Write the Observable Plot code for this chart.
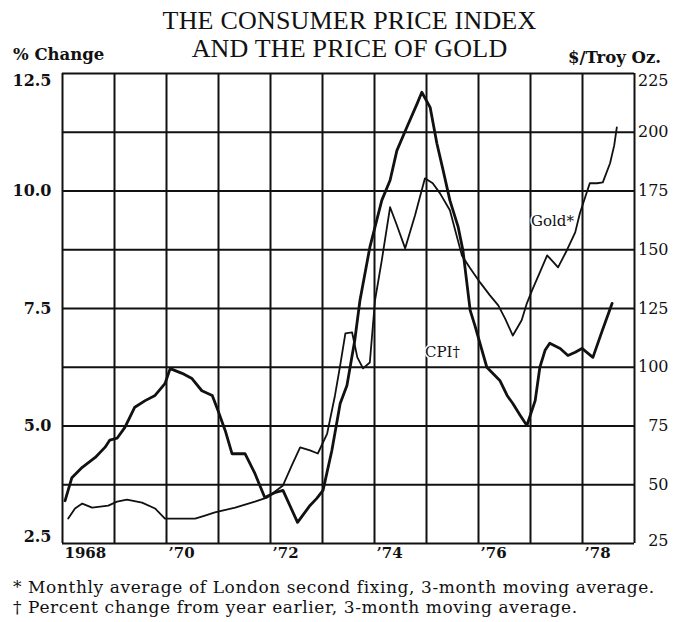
<!DOCTYPE html>
<html>
<head>
<meta charset="utf-8">
<script src="https://cdn.jsdelivr.net/npm/d3@7"></script>
<script src="https://cdn.jsdelivr.net/npm/@observablehq/plot@0.6"></script>
<style>
  body { margin: 0; background: #fff; }
  #wrap { position: relative; width: 677px; height: 622px; color: #111; overflow: hidden; }
  .title { position: absolute; left: 11px; width: 677px; text-align: center;
           font-family: "Liberation Serif", serif; font-size: 26px; line-height: 28px; letter-spacing: 0.2px; }
  .axt { position: absolute; font-family: "DejaVu Serif", serif; font-weight: bold; font-size: 16.5px; line-height: 18px; }
  .note { position: absolute; left: 13px; font-family: "DejaVu Serif", serif; font-size: 17px; line-height: 19px;
          letter-spacing: 0.6px; white-space: nowrap; }
  #chart { position: absolute; left: 0; top: 0; }
</style>
</head>
<body>
<div id="wrap">
  <div id="chart"></div>
  <div class="title" style="top:7px">THE CONSUMER PRICE INDEX</div>
  <div class="title" style="top:35px">AND THE PRICE OF GOLD</div>
  <div class="axt" style="left:13px; top:46px">% Change</div>
  <div class="axt" style="left:568px; top:49px">$/Troy Oz.</div>
  <div class="note" style="top:578px">* Monthly average of London second fixing, 3-month moving average.</div>
  <div class="note" style="top:598px">† Percent change from year earlier, 3-month moving average.</div>
</div>
<script>
// ---- Data ----
// Consumer Price Index, % change from year earlier (3-month moving average)
const cpiYear = [1968.05,1968.18,1968.38,1968.63,1968.82,1968.91,1969.05,1969.20,1969.39,1969.59,1969.78,1969.97,
  1970.07,1970.30,1970.49,1970.68,1970.88,1970.99,1971.13,1971.26,1971.51,1971.70,1971.89,
  1972.08,1972.24,1972.52,1972.76,1972.89,1973.01,1973.18,1973.34,1973.47,1973.62,1973.72,1973.91,
  1974.14,1974.30,1974.43,1974.62,1974.82,1974.91,1975.07,1975.20,1975.32,1975.45,1975.61,1975.70,1975.84,1975.93,
  1976.16,1976.41,1976.55,1976.66,1976.80,1976.93,1977.09,1977.18,1977.28,1977.37,1977.57,1977.72,1977.86,1977.99,
  1978.20,1978.38,1978.57];
const cpiValue = [3.41,3.90,4.12,4.33,4.55,4.70,4.74,4.97,5.40,5.54,5.65,5.90,
  6.22,6.12,6.01,5.75,5.65,5.33,4.90,4.41,4.41,3.99,3.48,
  3.58,3.63,2.95,3.31,3.46,3.63,4.48,5.48,5.86,6.82,7.67,8.80,
  9.80,10.23,10.86,11.35,11.86,12.10,11.78,11.01,10.44,9.80,9.23,8.74,7.46,7.14,
  6.25,5.97,5.65,5.48,5.23,5.01,5.54,6.25,6.61,6.76,6.65,6.50,6.57,6.65,
  6.46,7.03,7.61];

// Gold, $/troy oz. (London second fixing, 3-month moving average)
const goldYear = [1968.11,1968.24,1968.38,1968.57,1968.88,1969.05,1969.24,1969.53,1969.78,1969.97,
  1970.26,1970.55,1970.74,1970.93,1971.32,1971.70,1971.93,
  1972.24,1972.41,1972.57,1972.76,1972.91,1973.09,1973.24,1973.34,1973.44,1973.57,1973.67,1973.78,1973.91,
  1974.01,1974.14,1974.30,1974.43,1974.59,1974.78,1974.97,1975.12,1975.26,1975.45,1975.68,1975.84,
  1976.03,1976.22,1976.38,1976.51,1976.66,1976.83,1976.93,1977.03,1977.18,1977.32,1977.44,1977.53,1977.70,1977.86,1977.95,
  1978.14,1978.28,1978.39,1978.53,1978.61,1978.66];
const goldValue = [35.6,39.9,42.0,40.3,41.1,42.8,43.7,42.4,39.9,35.6,
  35.6,35.6,36.9,38.2,40.3,42.8,44.5,
  49.7,58.2,65.9,64.6,63.3,71.8,88.0,100.8,114.4,114.8,104.2,99.5,102.0,
  128.5,145.5,168.1,160.4,150.6,164.7,180.4,178.3,174.0,166.8,147.6,142.1,
  136.1,130.6,126.3,120.8,113.5,120.0,127.2,132.7,140.4,147.6,144.7,142.5,149.8,157.4,165.5,
  178.3,178.3,178.7,186.8,194.4,202.1];

// Axis ticks and labels
const yearTicks = [1968,1969,1970,1971,1972,1973,1974,1975,1976,1977,1978,1979];
const xLabelYears = [1968,1970,1972,1974,1976,1978];
const xLabelText = ["1968","’70","’72","’74","’76","’78"];
const cpiTicks = [2.5,5.0,7.5,10.0,12.5];
const goldTicks = [25,50,75,100,125,150,175,200,225];
const gridLevels = [2.5,3.75,5,6.25,7.5,8.75,10,11.25,12.5];

// Series labels (year, value)
const seriesLabels = [
  {name: "CPI†", year: 1974.97, cpi: 6.57},
  {name: "Gold*", year: 1977.01, gold: 162}
];

// ---- Build ----
const goldToCpi = g => 2.5 + (g - 25) / 20;
const cpiToGold = c => (c - 2.5) * 20 + 25;
const cpi = cpiYear.map((y, i) => ({year: y, value: cpiValue[i]}));
const gold = goldYear.map((y, i) => ({year: y, value: goldValue[i]}));
const labels = seriesLabels.map(d => ({name: d.name, year: d.year, y: d.cpi ?? goldToCpi(d.gold)}));

const font = "DejaVu Serif";
const ink = "#111";
const leftOpts = {anchor: "left", tickSize: 0, tickPadding: 11, tickFormat: d => d.toFixed(1),
  fontFamily: font, fontWeight: "bold", fontSize: 16, label: null};
const rightOpts = {anchor: "right", tickSize: 0, tickPadding: 34, textAnchor: "end",
  tickFormat: d => String(Math.round(cpiToGold(d))), fontFamily: font, fontSize: 16, label: null};

const plot = Plot.plot({
  width: 677,
  height: 575,
  marginTop: 73,
  marginBottom: 32,
  marginLeft: 62,
  marginRight: 43,
  style: {background: "transparent", color: ink},
  x: {domain: [1968, 1979], axis: null},
  y: {domain: [2.5, 12.5], axis: null},
  marks: [
    Plot.ruleX(yearTicks, {stroke: ink, strokeWidth: 2}),
    Plot.ruleY(gridLevels, {stroke: ink, strokeWidth: 2}),
    // left axis (CPI)
    Plot.axisY(cpiTicks.slice(1, -1), leftOpts),
    Plot.axisY(cpiTicks.slice(-1), {...leftOpts, dy: 7}),
    Plot.axisY(cpiTicks.slice(0, 1), {...leftOpts, dy: -7}),
    // right axis (gold)
    Plot.axisY(goldTicks.slice(1, -1).map(goldToCpi), rightOpts),
    Plot.axisY(goldTicks.slice(-1).map(goldToCpi), {...rightOpts, dy: 7}),
    Plot.axisY(goldTicks.slice(0, 1).map(goldToCpi), {...rightOpts, dy: -3}),
    // x axis
    Plot.axisX(xLabelYears, {anchor: "bottom", tickSize: 0, tickPadding: 4, textAnchor: "start", dx: 2,
      tickFormat: d => xLabelText[xLabelYears.indexOf(d)], fontFamily: font, fontWeight: "bold", fontSize: 15, label: null}),
    // series
    Plot.line(gold, {x: "year", y: d => goldToCpi(d.value), stroke: ink, strokeWidth: 1.8, strokeLinejoin: "round"}),
    Plot.line(cpi, {x: "year", y: "value", stroke: ink, strokeWidth: 2.8, strokeLinejoin: "round"}),
    Plot.text(labels, {x: "year", y: "y", text: "name", textAnchor: "start", fontFamily: font, fontSize: 15, fill: ink,
      stroke: "white", strokeWidth: 3, paintOrder: "stroke"})
  ]
});
document.getElementById("chart").appendChild(plot);
</script>
</body>
</html>
